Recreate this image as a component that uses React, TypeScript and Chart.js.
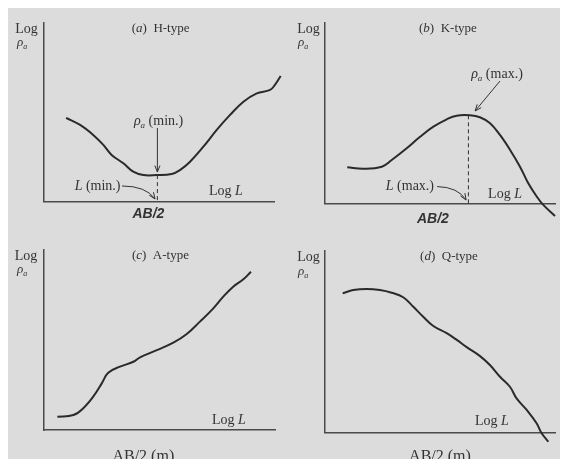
import React, { useEffect, useRef } from "react";
import { Chart, registerables } from "chart.js";

Chart.register(...registerables);

// ---- Data (normalised Log L / Log rho_a units, axis span 0..10) ----
const hTypeLogL = [0.96, 1.57, 2.14, 2.58, 2.94, 3.45, 3.88, 4.32, 4.9, 5.55, 5.91, 6.35, 6.93, 7.51, 8.09, 8.67, 9.25, 9.83, 10.04, 10.29];
const hTypeLogRho = [4.69, 4.29, 3.73, 3.17, 2.61, 2.14, 1.67, 1.48, 1.48, 1.54, 1.76, 2.23, 3.07, 4.01, 4.85, 5.59, 6.06, 6.25, 6.53, 7.03];

const kTypeLogL = [0.98, 1.68, 2.48, 2.91, 3.56, 4.14, 4.72, 5.3, 5.73, 6.31, 6.74, 7.18, 7.61, 8.05, 8.48, 8.84, 9.21, 9.49, 10.0];
const kTypeLogRho = [2.0, 1.92, 2.03, 2.4, 3.05, 3.69, 4.25, 4.66, 4.86, 4.88, 4.77, 4.44, 3.79, 2.96, 2.03, 1.11, 0.37, -0.09, -0.7];

const aTypeLogL = [0.58, 1.27, 1.7, 2.13, 2.5, 2.78, 3.29, 3.87, 4.16, 4.73, 5.6, 6.18, 6.75, 7.33, 7.76, 8.19, 8.63, 8.96];
const aTypeLogRho = [0.74, 0.83, 1.21, 1.85, 2.59, 3.18, 3.52, 3.79, 4.04, 4.35, 4.85, 5.33, 6.02, 6.76, 7.41, 7.96, 8.37, 8.79];

const qTypeLogL = [0.77, 1.23, 1.81, 2.39, 2.9, 3.4, 3.84, 4.27, 4.71, 5.29, 5.73, 6.16, 6.74, 7.17, 7.61, 8.04, 8.33, 8.77, 9.2, 9.42, 9.71];
const qTypeLogRho = [7.67, 7.85, 7.91, 7.85, 7.7, 7.45, 6.93, 6.38, 5.87, 5.47, 5.1, 4.7, 4.21, 3.72, 3.07, 2.52, 1.88, 1.24, 0.51, -0.04, -0.51];

const panelTitles = ["H-type", "K-type", "A-type", "Q-type"];
const panelLetters = ["a", "b", "c", "d"];

// ---- Styling / layout ----
const BG = "#dcdcdc";
const INK = "#333333";
const CURVE = "#2a2a2a";
const AXIS = "#4a4a4a";
const SERIF = "'Liberation Serif', 'DejaVu Serif', serif";
const SANS = "'Liberation Sans', Arial, sans-serif";

type Seg = { t: string; i?: boolean; b?: boolean; sub?: boolean; sans?: boolean };
type Label = { segs: Seg[]; x: number; y: number; size: number; align?: "left" | "center"; base?: CanvasTextBaseline };
type Arrow = { x1: number; y1: number; x2: number; y2: number; cx?: number; cy?: number };
type Dash = { x: number; y1: number; y2: number };

const rho: Seg[] = [{ t: "ρ", i: true }, { t: "a", i: true, sub: true }];

function axisLabels(titleIdx: number, lx: number, ly: number, rx: number, ry: number, tx: number, ty: number): Label[] {
  return [
    { segs: [{ t: "Log" }], x: lx, y: ly, size: 14 },
    { segs: rho, x: rx, y: ry, size: 13, align: "left" },
    { segs: [{ t: "(" }, { t: panelLetters[titleIdx], i: true }, { t: ")  " + panelTitles[titleIdx] }], x: tx, y: ty, size: 13 },
  ];
}

const panels = [
  {
    left: 0, top: 0, width: 280, height: 224,
    padding: { left: 36, top: 15, right: 14, bottom: 30.5 },
    xs: hTypeLogL, ys: hTypeLogRho,
    labels: [
      ...axisLabels(0, -0.76, 9.66, -1.17, 8.88, 5.07, 9.66),
      { segs: [...rho, { t: " (min.)" }], x: 4.98, y: 4.47, size: 14 },
      { segs: [{ t: "L", i: true }, { t: " (min.)" }], x: 2.33, y: 0.83, size: 14 },
      { segs: [{ t: "Log " }, { t: "L", i: true }], x: 7.91, y: 0.55, size: 14 },
      { segs: [{ t: "AB/2", i: true, b: true, sans: true }], x: 4.54, y: -0.7, size: 14 },
    ] as Label[],
    dashes: [{ x: 4.93, y1: 1.48, y2: 0 }] as Dash[],
    arrows: [
      { x1: 4.93, y1: 4.12, x2: 4.93, y2: 1.65 },
      { x1: 3.39, y1: 0.87, cx: 4.43, cy: 0.87, x2: 4.83, y2: 0.14 },
    ] as Arrow[],
  },
  {
    left: 280, top: 0, width: 280, height: 224,
    padding: { left: 36.7, top: 15, right: 13, bottom: 28.7 },
    xs: kTypeLogL, ys: kTypeLogRho,
    labels: [
      ...axisLabels(1, -0.7, 9.66, -1.16, 8.89, 5.35, 9.67),
      { segs: [...rho, { t: " (max.)" }], x: 7.48, y: 7.17, size: 14 },
      { segs: [{ t: "L", i: true }, { t: " (max.)" }], x: 3.7, y: 0.96, size: 14 },
      { segs: [{ t: "Log " }, { t: "L", i: true }], x: 7.83, y: 0.52, size: 14 },
      { segs: [{ t: "AB/2", i: true, b: true, sans: true }], x: 4.7, y: -0.87, size: 14 },
    ] as Label[],
    dashes: [{ x: 6.24, y1: 4.88, y2: 0 }] as Dash[],
    arrows: [
      { x1: 7.61, y1: 6.78, x2: 6.53, y2: 5.12 },
      { x1: 4.88, y1: 0.93, cx: 5.79, cy: 0.9, x2: 6.14, y2: 0.18 },
    ] as Arrow[],
  },
  {
    left: 0, top: 224, width: 280, height: 227,
    padding: { left: 36, top: 18, right: 13, bottom: 29 },
    xs: aTypeLogL, ys: aTypeLogRho,
    labels: [
      ...axisLabels(2, -0.78, 9.67, -1.17, 8.89, 5.04, 9.67),
      { segs: [{ t: "Log " }, { t: "L", i: true }], x: 8.0, y: 0.52, size: 14 },
      { segs: [{ t: "AB/2 (m)" }], x: 4.3, y: -1.74, size: 16, base: "alphabetic" },
    ] as Label[],
    dashes: [] as Dash[],
    arrows: [] as Arrow[],
  },
  {
    left: 280, top: 224, width: 280, height: 227,
    padding: { left: 37, top: 19, right: 13, bottom: 26.5 },
    xs: qTypeLogL, ys: qTypeLogRho,
    labels: [
      ...axisLabels(3, -0.72, 9.67, -1.17, 8.84, 5.39, 9.72),
      { segs: [{ t: "Log " }, { t: "L", i: true }], x: 7.26, y: 0.6, size: 14 },
      { segs: [{ t: "AB/2 (m)" }], x: 5.0, y: -1.58, size: 16, base: "alphabetic" },
    ] as Label[],
    dashes: [] as Dash[],
    arrows: [] as Arrow[],
  },
];

function segFont(s: Seg, size: number) {
  const sz = s.sub ? Math.round(size * 0.62) : size;
  return `${s.i ? "italic " : ""}${s.b ? "bold " : ""}${sz}px ${s.sans ? SANS : SERIF}`;
}

function drawRich(ctx: CanvasRenderingContext2D, l: Label, px: number, py: number) {
  const base = l.base || "middle";
  let total = 0;
  const widths = l.segs.map((s) => {
    ctx.font = segFont(s, l.size);
    const w = ctx.measureText(s.t).width;
    total += w;
    return w;
  });
  let x = l.align === "left" ? px : px - total / 2;
  ctx.fillStyle = INK;
  ctx.textAlign = "left";
  ctx.textBaseline = base;
  l.segs.forEach((s, k) => {
    ctx.font = segFont(s, l.size);
    ctx.fillText(s.t, x, py + (s.sub ? l.size * 0.3 : 0));
    x += widths[k];
  });
}

function arrowHead(ctx: CanvasRenderingContext2D, x: number, y: number, dx: number, dy: number) {
  const ang = Math.atan2(dy, dx);
  const len = 7;
  const spread = 0.38;
  ctx.beginPath();
  ctx.moveTo(x - len * Math.cos(ang - spread), y - len * Math.sin(ang - spread));
  ctx.lineTo(x, y);
  ctx.lineTo(x - len * Math.cos(ang + spread), y - len * Math.sin(ang + spread));
  ctx.stroke();
}

const annotationPlugin = {
  id: "schlumbergerAnnotations",
  // let the curve run past the ends of the axes (draw every point, not just the visible range)
  beforeDatasetUpdate(chart: any, args: any) {
    const meta = chart.getDatasetMeta(args.index);
    if (meta) meta._sorted = false;
  },
  afterDatasetsDraw(chart: any, _args: any, opts: any) {
    const p = opts.panel;
    if (!p) return;
    const ctx: CanvasRenderingContext2D = chart.ctx;
    const xs = chart.scales.x;
    const ys = chart.scales.y;
    const X = (v: number) => xs.getPixelForValue(v);
    const Y = (v: number) => ys.getPixelForValue(v);
    ctx.save();
    ctx.strokeStyle = INK;
    ctx.lineWidth = 1;
    (p.dashes as Dash[]).forEach((d) => {
      ctx.save();
      ctx.setLineDash([4, 3]);
      ctx.beginPath();
      ctx.moveTo(X(d.x), Y(d.y1));
      ctx.lineTo(X(d.x), Y(d.y2));
      ctx.stroke();
      ctx.restore();
    });
    (p.arrows as Arrow[]).forEach((a) => {
      const x1 = X(a.x1), y1 = Y(a.y1), x2 = X(a.x2), y2 = Y(a.y2);
      ctx.beginPath();
      ctx.moveTo(x1, y1);
      if (a.cx !== undefined && a.cy !== undefined) {
        const cx = X(a.cx), cy = Y(a.cy);
        ctx.quadraticCurveTo(cx, cy, x2, y2);
        ctx.stroke();
        arrowHead(ctx, x2, y2, x2 - cx, y2 - cy);
      } else {
        ctx.lineTo(x2, y2);
        ctx.stroke();
        arrowHead(ctx, x2, y2, x2 - x1, y2 - y1);
      }
    });
    (p.labels as Label[]).forEach((l) => drawRich(ctx, l, X(l.x), Y(l.y)));
    ctx.restore();
  },
};

function Panel({ p }: { p: (typeof panels)[number] }) {
  const ref = useRef<HTMLCanvasElement | null>(null);
  useEffect(() => {
    if (!ref.current) return;
    const axisCommon = {
      type: "linear" as const,
      min: 0,
      max: 10,
      grid: { display: false, drawTicks: false },
      ticks: { display: false },
      border: { display: true, color: AXIS, width: 1.5 },
    };
    const chart = new Chart(ref.current, {
      type: "line",
      data: {
        datasets: [
          {
            data: p.xs.map((x, i) => ({ x, y: p.ys[i] })),
            borderColor: CURVE,
            borderWidth: 2,
            pointRadius: 0,
            tension: 0.4,
            fill: false,
            clip: false as any,
          },
        ],
      },
      options: {
        responsive: false,
        animation: false,
        devicePixelRatio: 1,
        events: [],
        layout: { padding: p.padding },
        plugins: {
          legend: { display: false },
          tooltip: { enabled: false },
          schlumbergerAnnotations: { panel: p },
        } as any,
        scales: {
          x: { ...axisCommon, afterFit: (s: any) => { s.height = 0; } },
          y: { ...axisCommon, afterFit: (s: any) => { s.width = 0; } },
        },
      },
      plugins: [annotationPlugin],
    });
    return () => chart.destroy();
  }, [p]);
  return (
    <canvas
      ref={ref}
      width={p.width}
      height={p.height}
      style={{ position: "absolute", left: p.left, top: p.top, width: p.width, height: p.height }}
    />
  );
}

export default function App() {
  return (
    <div style={{ position: "relative", width: 560, height: 451, background: BG, overflow: "hidden" }}>
      {panels.map((p, i) => (
        <Panel key={i} p={p} />
      ))}
    </div>
  );
}
